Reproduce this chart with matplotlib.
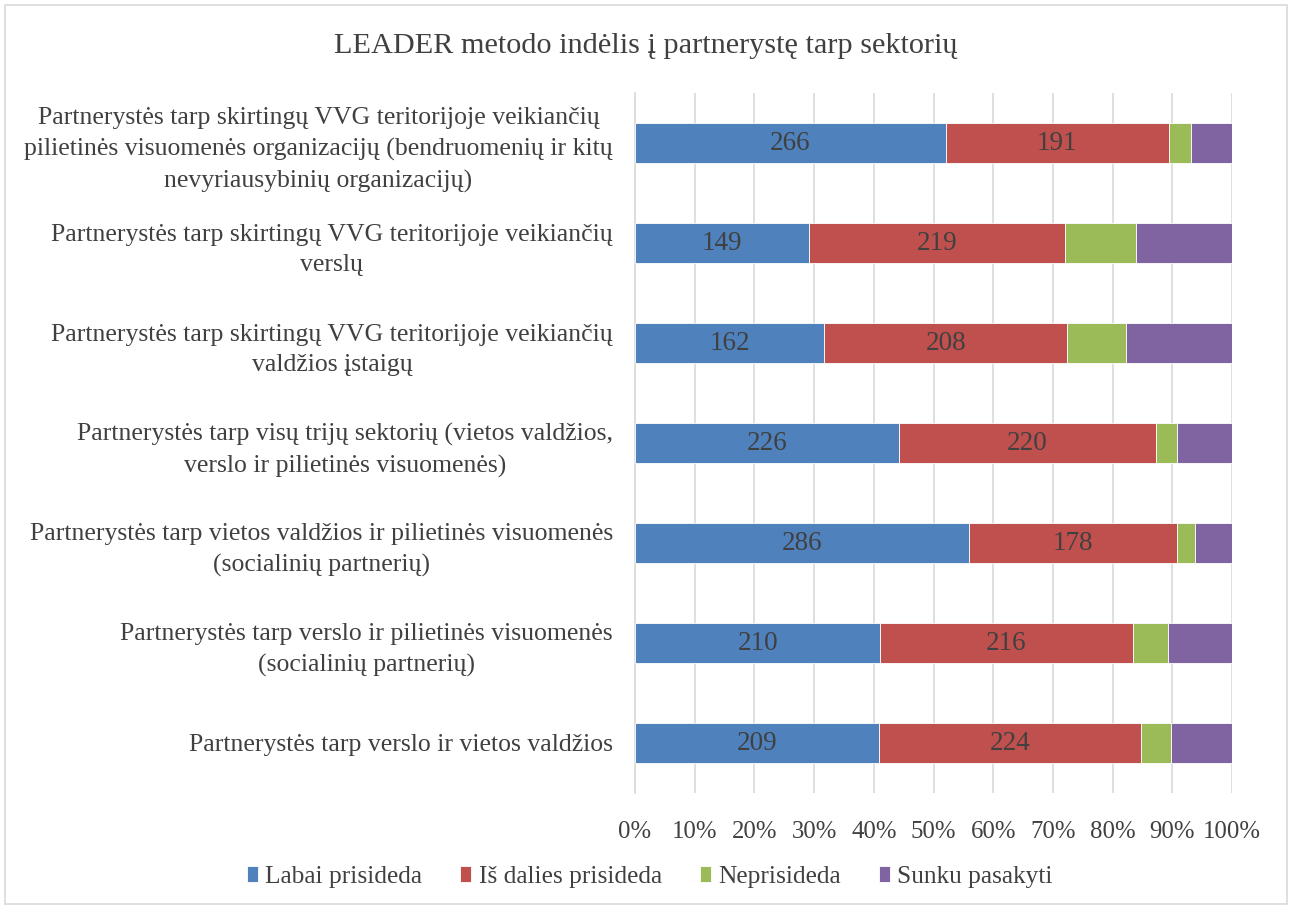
import matplotlib
matplotlib.use("Agg")
import matplotlib.pyplot as plt
import numpy as np
from matplotlib.patches import Rectangle

plt.rcParams['font.family'] = ['Liberation Serif', 'DejaVu Serif']

title = "LEADER metodo indėlis į partnerystę tarp sektorių"
categories = [
    "Partnerystės tarp skirtingų VVG teritorijoje veikiančių\npilietinės visuomenės organizacijų (bendruomenių ir kitų\nnevyriausybinių organizacijų)",
    "Partnerystės tarp skirtingų VVG teritorijoje veikiančių\nverslų",
    "Partnerystės tarp skirtingų VVG teritorijoje veikiančių\nvaldžios įstaigų",
    "Partnerystės tarp visų trijų sektorių (vietos valdžios,\nverslo ir pilietinės visuomenės)",
    "Partnerystės tarp vietos valdžios ir pilietinės visuomenės\n(socialinių partnerių)",
    "Partnerystės tarp verslo ir pilietinės visuomenės\n(socialinių partnerių)",
    "Partnerystės tarp verslo ir vietos valdžios",
]
series_names = ["Labai prisideda", "Iš dalies prisideda", "Neprisideda", "Sunku pasakyti"]
labai = [266, 149, 162, 226, 286, 210, 209]
is_dalies = [191, 219, 208, 220, 178, 216, 224]
neprisideda = [19, 61, 50, 18, 15, 30, 26]
sunku = [35, 82, 91, 47, 32, 55, 52]
show_labels = [True, True, False, False]
colors = ["#4F81BD", "#C0504D", "#9BBB59", "#8064A2"]
tick_labels = ["0%", "10%", "20%", "30%", "40%", "50%", "60%", "70%", "80%", "90%", "100%"]

txt = "#404040"
fig = plt.figure(figsize=(12.92, 9.09), dpi=100)
ax = fig.add_axes([635/1292, 1-793/909, 597/1292, 700/909])

data = np.array([labai, is_dalies, neprisideda, sunku], dtype=float)
totals = data.sum(axis=0)
shares = data / totals
y = np.arange(len(categories))
left = np.zeros(len(categories))
for i, name in enumerate(series_names):
    bars = ax.barh(y, shares[i], left=left, height=0.4, color=colors[i],
                   edgecolor="white", linewidth=0.6, label=name, zorder=3)
    if show_labels[i]:
        ax.bar_label(bars, labels=[str(int(v)) for v in data[i]], label_type="center",
                     fontsize=19.5, color=txt)
    left += shares[i]

ax.set_ylim(len(categories) - 0.5, -0.5)
ax.set_xlim(0, 1)
ax.set_yticks(y)
ax.set_yticklabels(categories, fontsize=18.5, color=txt, multialignment="center",
                   linespacing=1.5)
ax.set_xticks(np.linspace(0, 1, 11))
ax.set_xticklabels(tick_labels, fontsize=17.8, color=txt)
ax.tick_params(axis="both", length=0)
ax.tick_params(axis="y", pad=16)
ax.tick_params(axis="x", pad=20)
ax.grid(axis="x", color="#d9d9d9", linewidth=1.2, zorder=0)
for s in ["top", "right", "bottom"]:
    ax.spines[s].set_visible(False)
ax.spines["left"].set_color("#d9d9d9")
ax.spines["left"].set_linewidth(1.2)

fig.text(0.5, 1-46/909, title, ha="center", va="center", fontsize=21.8, color=txt)

handles, labels = ax.get_legend_handles_labels()
fig.legend(handles, labels, loc="center", bbox_to_anchor=(0.503, 1-877/909), ncol=4,
           frameon=False, fontsize=18.3, labelcolor=txt, handlelength=0.42,
           handleheight=0.55, handletextpad=0.3, columnspacing=1.5)

fig.patches.append(Rectangle((5/1292, 5/909), 1282/1292, 899/909, transform=fig.transFigure,
                             fill=False, edgecolor="#d9d9d9", linewidth=1.2))

fig.savefig("out.png", dpi=100)
